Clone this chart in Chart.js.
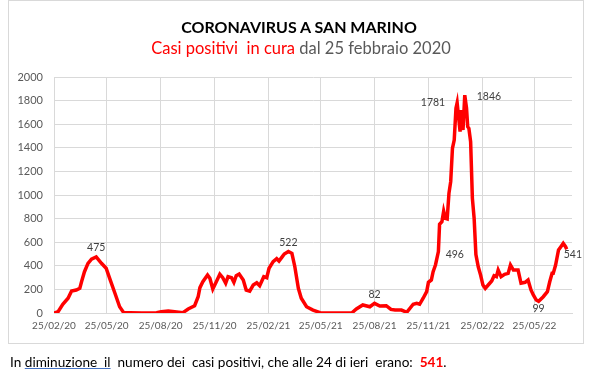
<!DOCTYPE html>
<html>
<head>
<meta charset="utf-8">
<script src="https://cdn.jsdelivr.net/npm/chart.js@4/dist/chart.umd.min.js"></script>
<style>
  body { margin: 0; background: #fff; font-family: Lato, "Open Sans", sans-serif; }
  #wrap { position: relative; width: 594px; height: 376px; overflow: hidden; }
  #frame { position: absolute; left: 8px; top: 0px; width: 574px; height: 342px; border: 1px solid #d9d9d9; }
  #chart { position: absolute; left: 0; top: 0; }
  .t1 { position: absolute; left: 0; width: 598px; top: 17px; text-align: center; font-weight: bold; font-size: 16px; color: #000; }
  .t2 { position: absolute; left: 0; width: 602px; top: 38px; text-align: center; font-size: 16.5px; color: #595959; white-space: pre; }
  .t2 .red { color: #ff0000; }
  .note { position: absolute; left: 10px; top: 354px; font-size: 13.6px; color: #000; white-space: pre; }
  .note u { text-decoration-color: #4472c4; }
  .note b { color: #ff0000; }
</style>
</head>
<body>
<div id="wrap">
  <div id="frame"></div>
  <canvas id="chart" width="594" height="376"></canvas>
  <div class="t1">CORONAVIRUS A SAN MARINO</div>
  <div class="t2"><span class="red">Casi positivi  in cura</span> dal 25 febbraio 2020</div>
  <div class="note">In <u>diminuzione  il</u>  numero dei  casi positivi, che alle 24 di ieri  erano:  <b>541</b>.</div>
</div>
<script>
// days since 25/02/2020
const days = [0,7,15,24,30,38,44,47,52,58,64,72,81,89,95,104,112,119,130,150,175,183,195,206,220,
  229,240,246,249,254,262,266,271,277,283,288,293,297,303,307,311,316,323,328,334,340,346,351,358,363,
  367,374,380,384,390,393,400,406,411,417,422,431,442,454,480,508,516,527,539,547,556,567,575,582,593,
  602,613,619,624,630,636,639,644,647,651,656,658,662,665,668,671,674,677,680,683,686,688,693,695,698,
  701,704,706,708,711,714,717,720,724,728,732,736,741,747,751,755,758,763,769,775,779,784,792,797,804,
  809,814,818,823,827,835,842,846,850,852,856,861,865,869,873,875];
const positivi = [0,11,74,125,186,195,209,265,350,421,457,475,421,379,294,167,53,3,2,0,3,11,16,11,3,
  34,62,138,215,265,322,294,203,265,328,299,252,308,299,260,316,330,280,195,186,237,257,231,308,299,
  379,435,460,440,480,500,522,506,392,209,125,53,25,3,0,0,34,68,53,82,59,62,30,25,25,
  6,74,82,74,125,181,260,280,350,407,520,752,774,864,802,797,1014,1113,1396,1466,1735,1781,1537,1720,1551,
  1846,1735,1579,1565,1452,972,802,496,392,322,237,209,237,271,316,308,364,308,328,336,407,364,364,252,260,
  280,195,153,110,99,138,181,265,336,336,407,534,562,591,562,541];

const tickDays = [0,90,182,274,366,455,547,639,731,820];
const tickLabels = ['25/02/20','25/05/20','25/08/20','25/11/20','25/02/21','25/05/21','25/08/21','25/11/21','25/02/22','25/05/22'];

// value labels on the curve
const labelDays = [72,400,547,688,701,720,827,875];
const labelVals = [475,522,82,1781,1846,496,99,541];
const labelPos = ['above','above','above','left','right','left','below','right'];

const valueLabels = {
  id: 'valueLabels',
  afterDatasetsDraw(chart) {
    const {ctx, scales: {x, y}} = chart;
    ctx.save();
    ctx.font = '10.5px Lato';
    ctx.fillStyle = '#404040';
    ctx.textBaseline = 'middle';
    labelDays.forEach((d, i) => {
      const px = x.getPixelForValue(d), py = y.getPixelForValue(labelVals[i]);
      const txt = String(labelVals[i]);
      let tx = px, ty = py, align = 'center';
      if (labelPos[i] === 'above') ty = py - 9;
      if (labelPos[i] === 'below') ty = py + 7;
      if (labelPos[i] === 'left') { tx = px - 12; align = 'right'; }
      if (labelPos[i] === 'right') { tx = px + 12; align = 'left'; ty = py + 1; }
      if (i === 7) { tx = px - 3; ty = py + 5; }
      ctx.textAlign = align;
      ctx.fillText(txt, tx, ty);
    });
    ctx.restore();
  }
};

const chart = new Chart(document.getElementById('chart'), {
  type: 'line',
  data: {
    datasets: [{
      data: days.map((d, i) => ({x: d, y: positivi[i]})),
      borderColor: '#ff0000',
      borderWidth: 3.5,
      pointRadius: 0,
      tension: 0,
      fill: false
    }]
  },
  options: {
    responsive: false,
    animation: false,
    layout: { padding: { top: 77, right: 22, bottom: 33, left: 0 } },
    plugins: { legend: { display: false }, tooltip: { enabled: false } },
    scales: {
      x: {
        type: 'linear',
        min: 0, max: 884,
        afterBuildTicks: (s) => { s.ticks = tickDays.map(v => ({value: v})); },
        afterFit: (s) => { s.height = 30; },
        ticks: {
          autoSkip: false, maxRotation: 0, padding: 7,
          font: { family: 'Lato', size: 10 }, color: '#595959',
          callback: (v) => tickLabels[tickDays.indexOf(v)]
        },
        grid: { color: '#d9d9d9', drawTicks: false },
        border: { color: '#d9d9d9' }
      },
      y: {
        min: 0, max: 2000,
        afterFit: (s) => { s.width = 54; },
        ticks: {
          stepSize: 200, padding: 11, font: { family: 'Lato', size: 11 }, color: '#595959',
          callback: (v) => String(v)
        },
        grid: { color: '#d9d9d9', drawTicks: false },
        border: { color: '#d9d9d9' }
      }
    }
  },
  plugins: [valueLabels]
});
</script>
</body>
</html>
